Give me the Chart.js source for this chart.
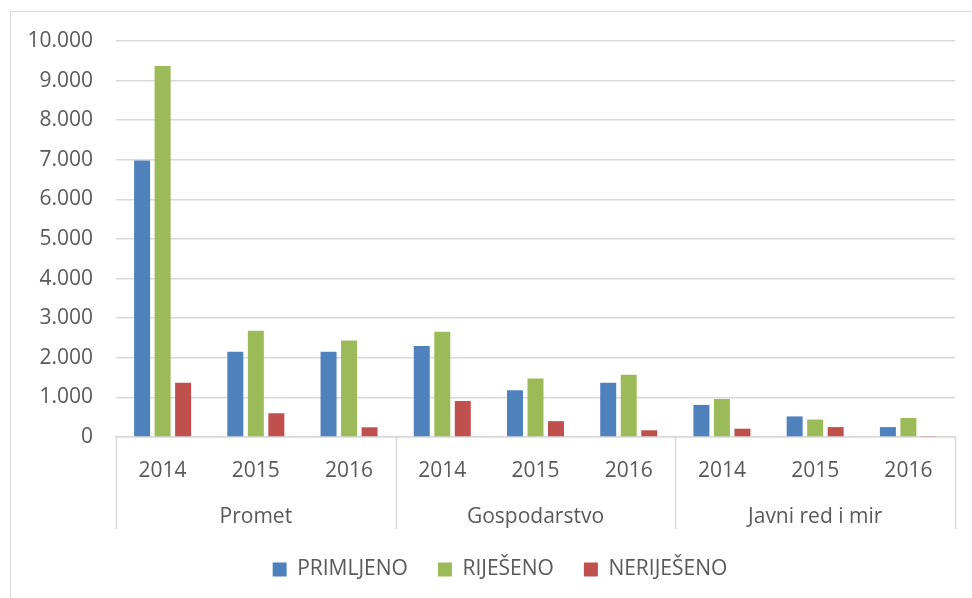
<!DOCTYPE html>
<html lang="hr">
<head>
    <meta charset="UTF-8">
    <title>Predmeti po godinama</title>
    <script src="https://cdn.jsdelivr.net/npm/chart.js"></script>
    <style>
        html, body { margin: 0; padding: 0; background: #fff; overflow: hidden; }
        #frame {
            position: absolute; left: 10px; top: 11px;
            width: 1000px; height: 620px;
            border: 1.5px solid #d9d9d9;
        }
        #chart { position: absolute; left: 10px; top: 11px; }
    </style>
</head>
<body>
    <div id="frame"></div>
    <canvas id="chart" width="980" height="587"></canvas>

    <script>
        // podaci
        const years = ['2014', '2015', '2016', '2014', '2015', '2016', '2014', '2015', '2016'];
        const groups = ['Promet', 'Gospodarstvo', 'Javni red i mir'];
        const primljeno  = [6980, 2155, 2150, 2300, 1180, 1370, 810, 520, 250];
        const rijeseno   = [9370, 2680, 2440, 2660, 1480, 1570, 960, 440, 480];
        const nerijeseno = [1370,  600,  245,  910,  400,  170, 210, 250,  25];
        const yTicks = [0, 1000, 2000, 3000, 4000, 5000, 6000, 7000, 8000, 9000, 10000];

        const textColor = '#595959';
        const gridColor = '#d9d9d9';
        const fontFamily = '"Open Sans", sans-serif';
        const fontSize = 21;

        function fmt(v) {
            return String(v).replace(/\B(?=(\d{3})+(?!\d))/g, '.');
        }

        // okomite crte između grupa ispod osi
        const groupLines = {
            id: 'groupLines',
            afterDraw(chart) {
                const x = chart.scales.x;
                const x2 = chart.scales.x2;
                const ctx = chart.ctx;
                const step = x.width / groups.length;
                ctx.save();
                ctx.strokeStyle = gridColor;
                ctx.lineWidth = 1.5;
                for (let i = 0; i <= groups.length; i++) {
                    const px = Math.round(x.left + i * step) + 0.5;
                    ctx.beginPath();
                    ctx.moveTo(px, x.top);
                    ctx.lineTo(px, x2.bottom);
                    ctx.stroke();
                }
                ctx.restore();
            }
        };

        const barOpts = { categoryPercentage: 0.66, barPercentage: 0.78 };

        new Chart(document.getElementById('chart'), {
            type: 'bar',
            data: {
                labels: years,
                datasets: [
                    Object.assign({ label: 'PRIMLJENO', data: primljeno, backgroundColor: '#4f81bd' }, barOpts),
                    Object.assign({ label: 'RIJEŠENO', data: rijeseno, backgroundColor: '#9bbb59' }, barOpts),
                    Object.assign({ label: 'NERIJEŠENO', data: nerijeseno, backgroundColor: '#c0504d' }, barOpts)
                ]
            },
            options: {
                responsive: false,
                animation: false,
                layout: { padding: { top: 30, right: 0, bottom: 8, left: 0 } },
                plugins: {
                    tooltip: { enabled: false },
                    legend: {
                        position: 'bottom',
                        labels: {
                            color: textColor,
                            font: { family: fontFamily, size: fontSize },
                            boxWidth: 14,
                            boxHeight: 14,
                            padding: 30
                        }
                    }
                },
                scales: {
                    x: {
                        weight: 0,
                        grid: { display: false, drawTicks: false },
                        border: { display: true, color: gridColor, width: 1.5 },
                        ticks: { color: textColor, font: { family: fontFamily, size: fontSize }, padding: 21, maxRotation: 0 },
                        afterFit(s) { s.height = 53; }
                    },
                    x2: {
                        type: 'category',
                        position: 'bottom',
                        weight: 1,
                        labels: groups,
                        offset: true,
                        grid: { display: false, drawTicks: false },
                        border: { display: false },
                        ticks: { color: textColor, font: { family: fontFamily, size: fontSize }, padding: 14, maxRotation: 0 },
                        afterFit(s) { s.height = 39; }
                    },
                    y: {
                        min: 0,
                        max: 10000,
                        afterBuildTicks(s) { s.ticks = yTicks.map(v => ({ value: v })); },
                        grid: { color: gridColor, lineWidth: 1.5, drawTicks: false },
                        border: { display: false },
                        ticks: {
                            color: textColor,
                            font: { family: fontFamily, size: fontSize },
                            padding: 23,
                            callback: v => fmt(v)
                        },
                        afterFit(s) {
                            s.width = 106;
                            s.paddingTop = 0;
                            s.paddingBottom = 0;
                        }
                    },
                    // prazan prostor desno od grafa
                    yRight: {
                        position: 'right',
                        grid: { display: false, drawTicks: false },
                        border: { display: false },
                        ticks: { display: false },
                        afterFit(s) { s.width = 35; }
                    }
                }
            },
            plugins: [groupLines]
        });
    </script>
</body>
</html>
